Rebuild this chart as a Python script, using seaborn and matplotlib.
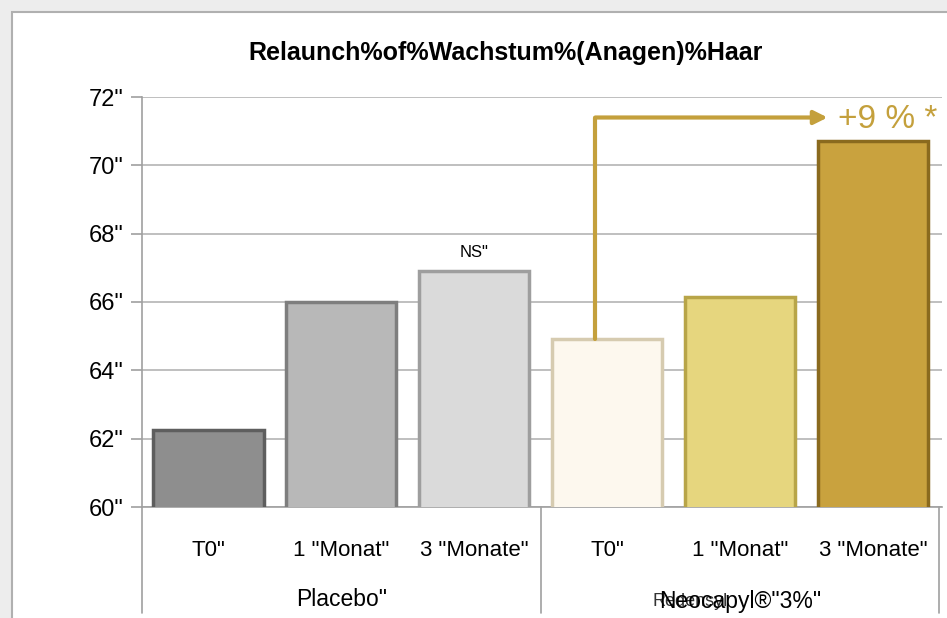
import pandas as pd
import matplotlib.pyplot as plt
import matplotlib.patches as mpatches
import seaborn as sns

sns.set_style("white")
plt.rcParams['font.family'] = ['Liberation Sans', 'DejaVu Sans']
plt.rcParams['text.color'] = 'black'
plt.rcParams['ytick.labelcolor'] = 'black'
plt.rcParams['xtick.labelcolor'] = 'black'

# data
zeitpunkte = ['T0"', '1 "Monat"', '3 "Monate"', 'T0"', '1 "Monat"', '3 "Monate"']
gruppen = ['Placebo"', 'Placebo"', 'Placebo"', 'Neocapyl®"3%"', 'Neocapyl®"3%"', 'Neocapyl®"3%"']
werte = [62.25, 66.0, 66.9, 64.92, 66.15, 70.7]
farben = ['#8e8e8e', '#b8b8b8', '#dadada', '#fdf8ee', '#e6d67e', '#c9a23e']
kanten = ['#5e5e5e', '#7e7e7e', '#9e9e9e', '#d6cbb0', '#b8a548', '#8a6a1e']
y_ticks = [60, 62, 64, 66, 68, 70, 72]
gruppen_namen = ['Placebo"', 'Neocapyl®"3%"']

df = pd.DataFrame({'pos': range(len(werte)), 'wert': werte, 'gruppe': gruppen})

fig = plt.figure(figsize=(9.47, 6.18), dpi=100)
fig.patch.set_facecolor('#ededed')
# white slide panel with gray border
fig.patches.append(mpatches.Rectangle((12 / 947, -0.1), 1.1, (618 - 12) / 618 + 0.1,
                                      transform=fig.transFigure, facecolor='white',
                                      edgecolor='#b0b0b0', linewidth=1.5, zorder=-5))

ax = fig.add_axes([142 / 947, 111 / 618, 800 / 947, 410 / 618])
ax.set_zorder(2)
ax.set_facecolor('white')
sns.barplot(data=df, x='pos', y='wert', hue='pos', palette=farben, legend=False,
            width=0.83, ax=ax, zorder=3, native_scale=True, saturation=1)
for patch, k in zip(ax.patches, kanten):
    patch.set_edgecolor(k)
    patch.set_linewidth(2.5)

ax.set_xlim(-0.5, 5.52)
ax.set_ylim(60, 72)
ax.set_yticks(y_ticks)
ax.set_yticklabels([f'{t}"' for t in y_ticks], fontsize=17)
ax.yaxis.grid(True, color='#b4b4b4', linewidth=1.2, zorder=0)
ax.set_axisbelow(True)
ax.tick_params(axis='y', length=8, color='#a0a0a0', width=1.2, pad=5, left=True)
ax.set_xticks(range(len(zeitpunkte)))
ax.set_xticklabels(zeitpunkte, fontsize=16)
ax.tick_params(axis='x', length=0, pad=24)
ax.set_xlabel('')
ax.set_ylabel('')
for s in ['top', 'right']:
    ax.spines[s].set_visible(False)
ax.spines['left'].set_color('#a0a0a0')
ax.spines['bottom'].set_color('#a0a0a0')
ax.spines['left'].set_linewidth(1.2)
ax.spines['bottom'].set_linewidth(1.2)

# category separators below the axis
for xs in [-0.5, 2.5, 5.5]:
    ax.plot([xs, xs], [60, 56.9], color='#a0a0a0', linewidth=1.2, clip_on=False)

ax.text(1, 57.3, gruppen_namen[0], ha='center', va='center', fontsize=16.5)
ax.text(3.34, 57.22, 'Redensyl', ha='left', va='center', fontsize=13, color='#333333')
ax.text(4, 57.22, gruppen_namen[1], ha='center', va='center', fontsize=16.5)

ax.text(2, 67.45, 'NS"', ha='center', va='center', fontsize=12)

# arrow from Neocapyl T0 to 3 Monate
gold = '#c4a03c'
ax.plot([2.91, 2.91], [werte[3], 71.4], color=gold, linewidth=3, zorder=4)
ax.annotate('', xy=(4.68, 71.4), xytext=(2.89, 71.4),
            arrowprops=dict(arrowstyle='-|>', color=gold, linewidth=3, mutation_scale=20),
            zorder=4)
ax.text(4.74, 71.35, '+9 % *', ha='left', va='center', fontsize=24, color=gold)

fig.text(506 / 947, 0.915, 'Relaunch%of%Wachstum%(Anagen)%Haar', ha='center', va='center',
         fontsize=18, fontweight='bold')

fig.savefig('out.png', dpi=100, facecolor=fig.get_facecolor())
